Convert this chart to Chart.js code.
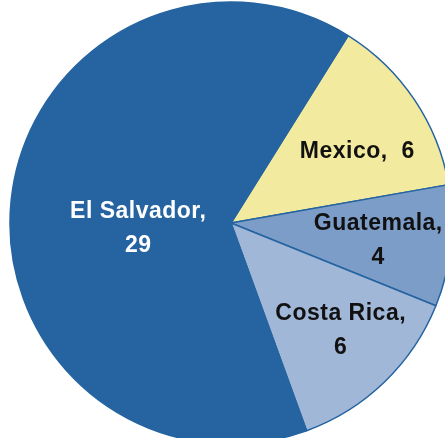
<!DOCTYPE html>
<html>
<head>
<meta charset="utf-8">
<script src="https://cdn.jsdelivr.net/npm/chart.js@4/dist/chart.umd.min.js"></script>
<style>
    html, body { margin: 0; padding: 0; background: #fff; overflow: hidden; }
    #wrap { position: absolute; left: 0; top: 0; width: 462px; height: 446px; }
</style>
</head>
<body>
<div id="wrap"><canvas id="pie" width="462" height="446"></canvas></div>
<script>
var countries = ['Mexico', 'Guatemala', 'Costa Rica', 'El Salvador'];
var counts = [6, 4, 6, 29];
var sliceColors = ['#f2ea9e', '#7c9dc8', '#a1b7d7', '#2564a1'];

// label text, split into lines like the chart's callouts
var labelLines = [['Mexico,  6'], ['Guatemala,', '4'], ['Costa Rica,', '6'], ['El Salvador,', '29']];
var labelColors = ['#111', '#111', '#111', '#fff'];
var labelRadius = [0.66, 0.67, 0.69, 0.42];
var labelShift = [4, 0, -2, -8];

var sliceLabels = {
    id: 'sliceLabels',
    afterDatasetsDraw: function (chart) {
        var ctx = chart.ctx;
        var arcs = chart.getDatasetMeta(0).data;
        ctx.save();
        ctx.font = 'bold 23px "Liberation Sans", Arial, sans-serif';
        ctx.letterSpacing = '0.5px';
        ctx.textAlign = 'center';
        ctx.textBaseline = 'middle';
        arcs.forEach(function (arc, i) {
            var p = arc.getProps(['x', 'y', 'startAngle', 'endAngle', 'outerRadius'], true);
            var mid = (p.startAngle + p.endAngle) / 2 + labelShift[i] * Math.PI / 180;
            var r = p.outerRadius * labelRadius[i];
            var cx = p.x + Math.cos(mid) * r;
            var cy = p.y + Math.sin(mid) * r + 2;
            var lines = labelLines[i];
            var lh = 34;
            ctx.fillStyle = labelColors[i];
            lines.forEach(function (t, j) {
                ctx.fillText(t, cx, cy + (j - (lines.length - 1) / 2) * lh);
            });
        });
        ctx.restore();
    }
};

new Chart(document.getElementById('pie'), {
    type: 'pie',
    data: {
        labels: countries,
        datasets: [{
            data: counts,
            backgroundColor: sliceColors,
            borderColor: '#2564a1',
            borderWidth: 1.5
        }]
    },
    options: {
        responsive: false,
        animation: false,
        rotation: 32,
        radius: 221,
        layout: { padding: 0 },
        plugins: {
            legend: { display: false },
            tooltip: { enabled: false }
        }
    },
    plugins: [sliceLabels]
});
</script>
</body>
</html>
